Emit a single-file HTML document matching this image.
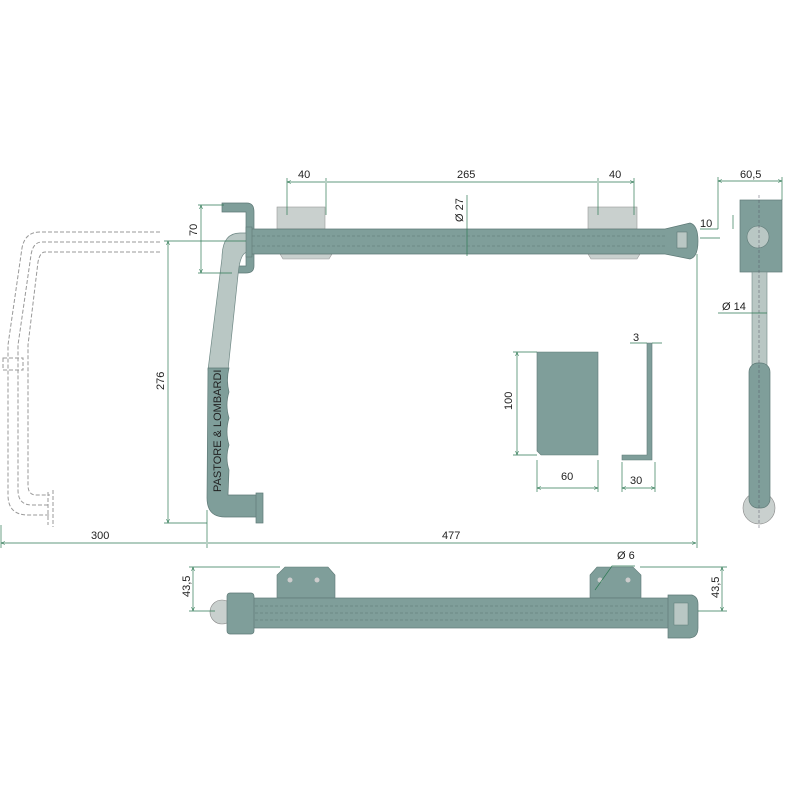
<!DOCTYPE html>
<html><head><style>body{margin:0;background:#fff}svg{display:block}text{font-family:"Liberation Sans",sans-serif;font-size:11px;fill:#222}</style></head>
<body>
<svg width="800" height="800" viewBox="0 0 800 800" xmlns="http://www.w3.org/2000/svg">
<defs>
<marker id="a" viewBox="0 0 8 8" refX="8" refY="4" markerWidth="6" markerHeight="6" orient="auto-start-reverse"><path d="M0,1 L8,4 L0,7" fill="none" stroke="#2f7a55" stroke-width="1"/></marker>
</defs>
<g stroke="#999" stroke-width="1" fill="none" stroke-dasharray="4,2">
<path d="M160,232 H40 Q25,232 22,248 L8,345 V495 Q8,515 28,515 H50"/>
<path d="M160,242 H42 Q33,242 31,255 L18,345 V490 Q18,505 32,505 H50"/>
<path d="M160,252 H45 Q40,252 38,262 L28,345 V485 Q28,495 36,495 H50"/>
<rect x="3" y="358" width="20" height="12"/>
<path d="M48,492 V525 M53,490 V527"/>
</g>
<!-- top bar plates -->
<rect x="277" y="207" width="48" height="22" fill="#c9d0ce" stroke="#999" stroke-width=".6"/>
<rect x="588" y="207" width="49" height="22" fill="#c9d0ce" stroke="#999" stroke-width=".6"/>
<path d="M280,254 H332 L329,259 H283 Z" fill="#c9d0ce" stroke="#999" stroke-width=".6"/>
<path d="M588,254 H640 L637,259 H591 Z" fill="#c9d0ce" stroke="#999" stroke-width=".6"/>
<!-- handle -->
<path d="M222,203 H247 Q254,203 254,212 V266 Q254,273 246,273 H232 V266 H246 V212 H222 Z" fill="#7f9e9a" stroke="#5f7a77" stroke-width=".7"/>
<path d="M248,233 H240 Q222,233 222,258 L208,370 H228 L238,275 Q240,252 248,252 Z" fill="#b9c7c4" stroke="#6f8885" stroke-width=".7"/>
<path d="M208,368 H229 Q226,380 229,392 Q225,405 229,418 Q225,432 229,445 Q225,458 229,470 L228,495 H258 V517 H225 Q207,517 207,498 Z" fill="#7f9e9a" stroke="#5f7a77" stroke-width=".7"/>
<rect x="256" y="493" width="7" height="30" fill="#7f9e9a" stroke="#5f7a77" stroke-width=".7"/>
<text transform="translate(221,492) rotate(-90)" font-size="11" fill="#222">PASTORE &amp; LOMBARDI</text>
<!-- top bar -->
<path d="M248,229 H665 L690,223 Q698,225 698,241 Q698,257 690,259 L665,254 H248 Z" fill="#7f9e9a" stroke="#5f7a77" stroke-width=".7"/>
<rect x="246" y="227" width="6" height="30" fill="#7f9e9a" stroke="#5f7a77" stroke-width=".6"/>
<g stroke="#5c7673" stroke-width=".6" stroke-dasharray="3,2" fill="none"><path d="M252,236 H665 M252,246 H665"/></g>
<rect x="677" y="232" width="10" height="16" fill="#b9c7c4" stroke="#5f7a77" stroke-width=".6"/>
<!-- right view -->
<rect x="740" y="200" width="42" height="72" fill="#7f9e9a" stroke="#5f7a77" stroke-width=".7"/>
<circle cx="758" cy="237" r="11" fill="#b9c7c4" stroke="#5f7a77" stroke-width=".6"/>
<rect x="752" y="272" width="15" height="93" fill="#b9c7c4" stroke="#6f8885" stroke-width=".6"/>
<circle cx="759" cy="508" r="16" fill="#c9d0ce" stroke="#888" stroke-width=".6"/>
<rect x="749" y="363" width="21" height="145" rx="9" fill="#7f9e9a" stroke="#5f7a77" stroke-width=".7"/>
<path d="M759,195 V530" stroke="#556" stroke-width=".5" stroke-dasharray="3,2"/>
<!-- plate & profile -->
<path d="M537,352 H598 V455 H541 L537,451 Z" fill="#7f9e9a" stroke="#5f7a77" stroke-width=".6"/>
<path d="M647,343 V455 H622 V460 H652 V343 Z" fill="#7f9e9a" stroke="#5f7a77" stroke-width=".6"/>
<!-- bottom view -->
<path d="M277,575 L285,567 H328 L335,575 V598 H277 Z" fill="#7f9e9a" stroke="#5f7a77" stroke-width=".6"/>
<path d="M590,575 L597,567 H633 L641,575 V598 H590 Z" fill="#7f9e9a" stroke="#5f7a77" stroke-width=".6"/>
<circle cx="290" cy="580" r="2.5" fill="#ccc"/><circle cx="317" cy="580" r="2.5" fill="#ccc"/>
<circle cx="600" cy="580" r="2.5" fill="#ccc"/><circle cx="628" cy="580" r="2.5" fill="#ccc"/>
<rect x="250" y="598" width="420" height="30" fill="#7f9e9a" stroke="#5f7a77" stroke-width=".7"/>
<g stroke="#5c7673" stroke-width=".6" stroke-dasharray="3,2"><path d="M255,606 H665 M255,613 H665 M255,620 H665"/></g>
<circle cx="222" cy="612" r="12" fill="#c9d0ce" stroke="#888" stroke-width=".6"/>
<rect x="222" y="604" width="12" height="16" fill="#c9d0ce"/>
<rect x="227" y="593" width="27" height="41" rx="3" fill="#7f9e9a" stroke="#5f7a77" stroke-width=".7"/>
<path d="M668,595 H692 Q698,597 698,604 V628 Q698,637 690,638 H668 Z" fill="#7f9e9a" stroke="#5f7a77" stroke-width=".7"/>
<rect x="674" y="603" width="14" height="22" fill="#b9c7c4" stroke="#5f7a77" stroke-width=".5"/>
<!-- dims -->
<g stroke="#2f7a55" stroke-width=".7" fill="none">
<path d="M287,182 H325 M327,182 H597 M599,182 H634" marker-start="url(#a)" marker-end="url(#a)"/>
<path d="M287,178 V215 M326,178 V215 M598,178 V215 M634,178 V215"/>
<path d="M467,195 V256"/>
<path d="M201,205 V273" marker-start="url(#a)" marker-end="url(#a)"/><path d="M198,205 H224 M198,273 H232"/>
<path d="M168,241 V523" marker-start="url(#a)" marker-end="url(#a)"/><path d="M164,241 H246 M164,523 H207"/>
<path d="M1,543 H206 M208,543 H696" marker-start="url(#a)" marker-end="url(#a)"/>
<path d="M207,510 V548 M697,254 V548 M1,525 V548"/>
<path d="M718,181 H782" marker-start="url(#a)" marker-end="url(#a)"/><path d="M718,177 V215 M782,177 V200"/>
<path d="M700,229 H718 M718,215 V229 M733,215 V229 M700,238 H720" />
<path d="M718,313 H752 M752,313 H767"/>
<path d="M517,352 V455" marker-start="url(#a)" marker-end="url(#a)"/><path d="M513,352 H537 M513,455 H537"/>
<path d="M537,488 H598" marker-start="url(#a)" marker-end="url(#a)"/><path d="M537,460 V492 M598,460 V492"/>
<path d="M622,488 H655" marker-start="url(#a)" marker-end="url(#a)"/><path d="M622,462 V492 M655,462 V492"/>
<path d="M630,343 H647 M652,343 H662"/>
<path d="M193,567 V611" marker-start="url(#a)" marker-end="url(#a)"/><path d="M189,567 H280 M189,611 H215"/>
<path d="M722,567 V611" marker-start="url(#a)" marker-end="url(#a)"/><path d="M640,567 H727 M698,611 H727"/>
<path d="M595,590 L612,566 H635"/>
</g>
<text x="298" y="178">40</text><text x="457" y="178">265</text><text x="609" y="178">40</text>
<text transform="translate(463,222) rotate(-90)">Ø 27</text>
<text transform="translate(197,236) rotate(-90)">70</text>
<text transform="translate(164,390) rotate(-90)">276</text>
<text x="91" y="539">300</text><text x="442" y="539">477</text>
<text x="740" y="178">60,5</text><text x="700" y="227">10</text><text x="722" y="310">Ø 14</text>
<text transform="translate(512,410) rotate(-90)">100</text>
<text x="561" y="480">60</text><text x="630" y="484">30</text><text x="633" y="341">3</text>
<text transform="translate(190,597) rotate(-90)">43,5</text>
<text transform="translate(719,598) rotate(-90)">43,5</text>
<text x="617" y="559">Ø 6</text>
</svg>
</body></html>
